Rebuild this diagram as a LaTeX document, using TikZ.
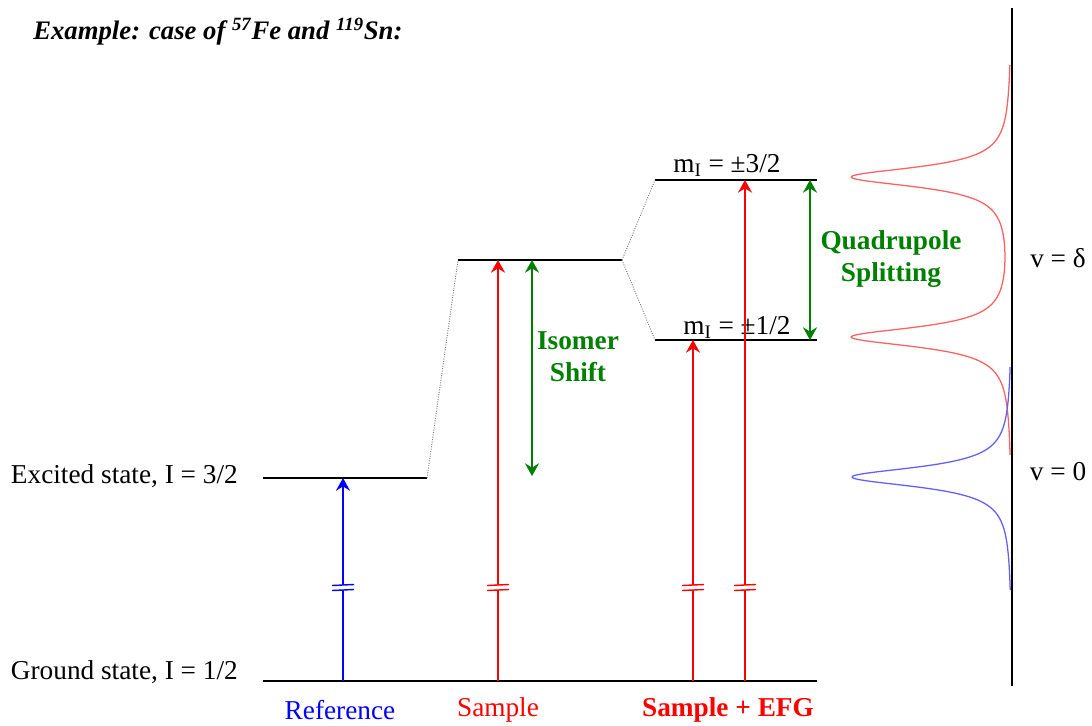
\documentclass[tikz,border=0pt]{standalone}
\usepackage{fontspec}
\setmainfont{Liberation Serif}
\usetikzlibrary{arrows.meta, positioning}

\definecolor{qsgreen}{RGB}{0,128,0}
\definecolor{curvered}{RGB}{255,95,95}
\definecolor{curveblue}{RGB}{95,95,255}

\tikzset{
  level/.style={line width=1.5pt, black},
  link/.style={densely dotted, gray, line width=0.7pt},
  trans/.style={-{Stealth[length=9pt,width=10pt,inset=3pt]}, line width=1.4pt},
  split/.style={{Stealth[length=9pt,width=10pt,inset=3pt]}-{Stealth[length=9pt,width=10pt,inset=3pt]}, line width=1.5pt, qsgreen},
  lbl/.style={font=\fontsize{19.4}{22}\selectfont, inner sep=0pt},
  glbl/.style={inner sep=0pt, font=\fontsize{19.4}{23}\selectfont\bfseries, text=qsgreen, align=center},
}

\begin{document}
\begin{tikzpicture}[x=0.025cm, y=-0.025cm]
    \useasboundingbox (0,0) rectangle (1092,725);

    % Title
    \node[inner sep=0pt, anchor=west, font=\fontsize{19}{22}\selectfont\bfseries\itshape] (title) at (33,32)
        {Example: case of \textsuperscript{57}Fe and \textsuperscript{119}Sn:};

    % Energy levels
    \coordinate (g0) at (263,681);   \coordinate (g1) at (817,681);
    \coordinate (e0) at (263,478);   \coordinate (e1) at (427,478);
    \coordinate (s0) at (458,260);   \coordinate (s1) at (622,260);
    \coordinate (u0) at (655,180);   \coordinate (u1) at (817,180);
    \coordinate (d0) at (655,340);   \coordinate (d1) at (817,340);
    \draw[level] (g0) -- (g1);
    \draw[level] (e0) -- (e1);
    \draw[level] (s0) -- (s1);
    \draw[level] (u0) -- (u1);
    \draw[level] (d0) -- (d1);

    % Dotted links between levels
    \draw[link] (e1) -- (s0);
    \draw[link] (s1) -- (u0);
    \draw[link] (s1) -- (d0);

    % Level labels
    \node[lbl, anchor=east] (excited) at (238,476) {Excited state, I = 3/2};
    \node[lbl, anchor=east] (ground) at (238,672) {Ground state, I = 1/2};
    \node[lbl, anchor=base] (m32) at (727,172) {m\textsubscript{I} = ±3/2};
    \node[lbl, anchor=base] (m12) at (737,334) {m\textsubscript{I} = ±1/2};

    % Transitions
    \coordinate (ra) at (343,681);  \coordinate (rb) at (343,478);
    \coordinate (sa) at (498,681);  \coordinate (sb) at (498,260);
    \coordinate (qa) at (693,681);  \coordinate (qb) at (693,340);
    \coordinate (pa) at (745,681);  \coordinate (pb) at (745,180);
    \draw[trans, blue] (ra) -- (rb);
    \draw[trans, red] (sa) -- (sb);
    \draw[trans, red] (qa) -- (qb);
    \draw[trans, red] (pa) -- (pb);

    % Break marks
    \foreach \x/\c in {343/blue, 498/red, 693/red, 745/red} {
        \fill[white] (\x-3,585) rectangle (\x+3,590);
        \draw[\c, line width=1pt] (\x-11,585.5) -- (\x+11,584.5);
        \draw[\c, line width=1pt] (\x-11,590.5) -- (\x+11,589.5);
    }

    % Isomer shift and quadrupole splitting
    \coordinate (is0) at (532,260);  \coordinate (is1) at (532,476);
    \coordinate (qs0) at (810,180);  \coordinate (qs1) at (810,340);
    \draw[split] (is0) -- (is1);
    \draw[split] (qs0) -- (qs1);
    \node[glbl] (isomer) at (578,357) {Isomer\\Shift};
    \node[glbl] (quad) at (891,259) {Quadrupole\\Splitting};

    % Spectrum
    \coordinate (ax0) at (1012,8);  \coordinate (ax1) at (1012,686);
    \draw[line width=1.5pt] (ax0) -- (ax1);
    \draw[curvered, line width=0.9pt, domain=65:455, samples=400, variable=\t]
        plot ({1012 - 160/(1+((\t-177)/12)^2) - 160/(1+((\t-337)/12)^2)}, \t);
    \draw[curveblue, line width=0.9pt, domain=367:590, samples=300, variable=\t]
        plot ({1012 - 160/(1+((\t-477)/12)^2)}, \t);
    \node[lbl] (vdelta) at (1058,258) {v = δ};
    \node[lbl] (vzero) at (1058,472) {v = 0};

    % Bottom labels
    \node[lbl, text=blue] (reflbl) at (340,710) {Reference};
    \node[lbl, text=red] (samplbl) at (498,710) {Sample};
    \node[lbl, text=red, font=\fontsize{19.4}{22}\selectfont\bfseries] (efglbl) at (728,710) {Sample + EFG};
\end{tikzpicture}
\end{document}
